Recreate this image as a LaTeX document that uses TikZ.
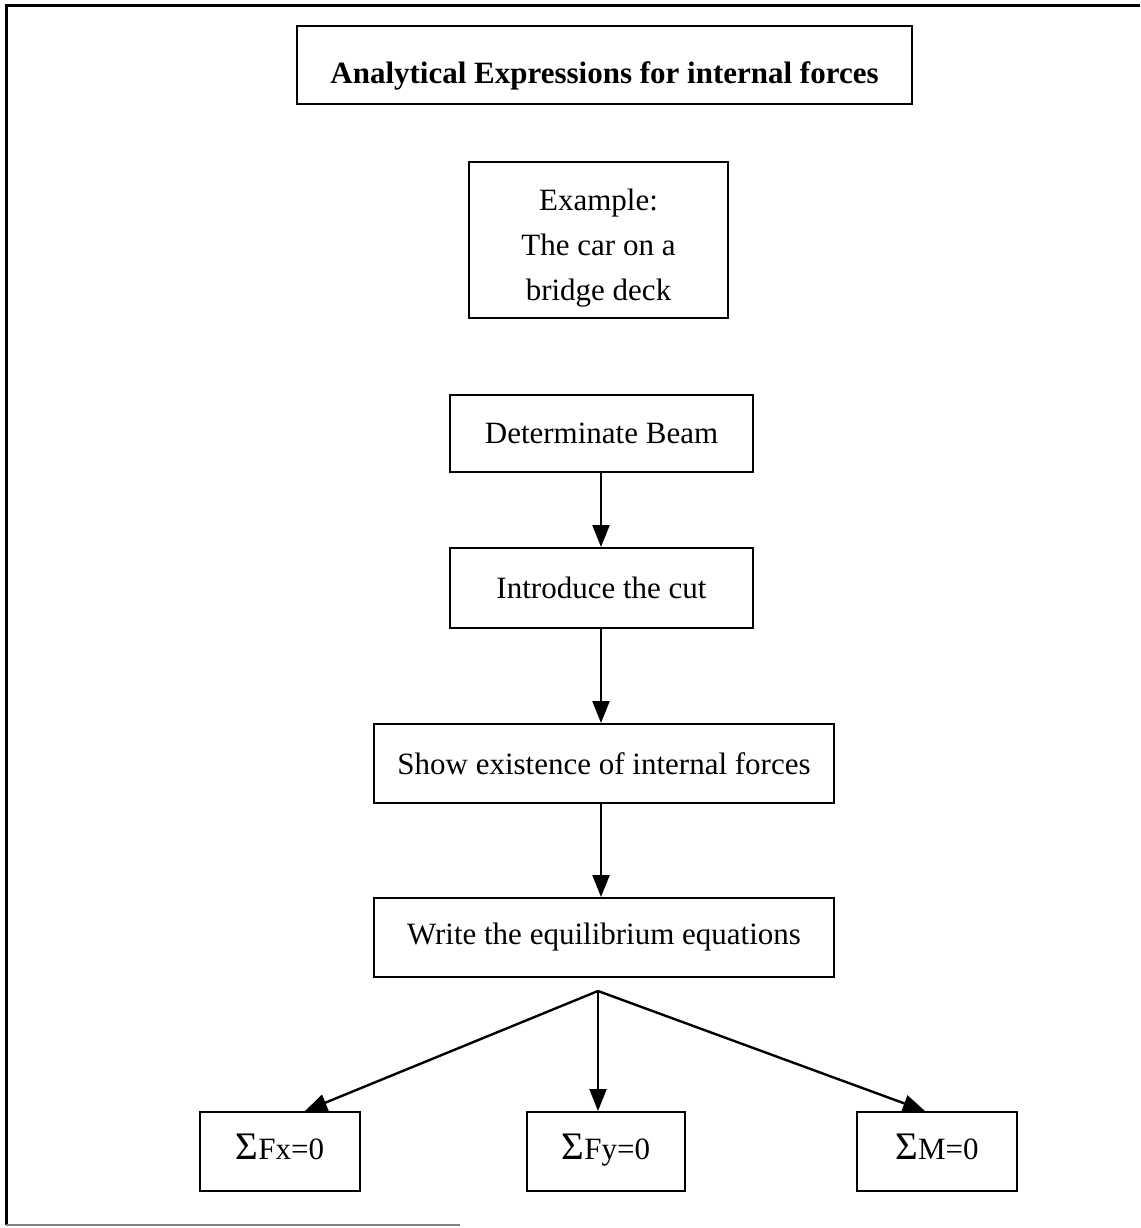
\documentclass[tikz,border=0pt]{standalone}
\usepackage{fontspec}
\setmainfont{Liberation Serif}
\usetikzlibrary{arrows.meta}
\newcommand{\bigsum}{{\fontsize{39}{45}\selectfont Σ}}
\begin{document}
\begin{tikzpicture}[x=1pt, y=-1pt,
  box/.style={draw, line width=2pt, inner sep=0pt, align=center,
    font=\fontsize{31}{45}\selectfont},
  sumbox/.style={box, minimum height=79pt, text height=22pt, text depth=7pt},
  flow/.style={line width=2.4pt, -{Triangle[length=22pt, width=17pt]}},
  frame/.style={line width=3pt}]
  \useasboundingbox (0,0) rectangle (1140,1228);

  % page frame
  \draw[frame] (1140,6) -- (6,6) -- (6,1225);
  \draw[line width=2pt, gray] (6,1225) -- (460,1225);

  % boxes
  \node[box, minimum width=615pt, minimum height=78pt,
        text height=45pt, text depth=7pt,
        font=\fontsize{31}{45}\selectfont\bfseries] (title) at (604.5,65)
        {Analytical Expressions for internal forces};
  \node[box, minimum width=259pt, minimum height=156pt] (ex) at (598.5,240)
        {\rule{0pt}{38pt}Example:\\The car on a\\bridge deck};
  \node[box, minimum width=303pt, minimum height=77pt] (beam) at (601.5,433.5)
        {Determinate Beam};
  \node[box, minimum width=303pt, minimum height=80pt] (cut) at (601.5,588)
        {Introduce the cut};
  \node[box, minimum width=460pt, minimum height=79pt] (show) at (604,763.5)
        {Show existence of internal forces};
  \node[box, minimum width=460pt, minimum height=79pt] (eq) at (604,937.5)
        {Write the equilibrium equations};
  \node[sumbox, minimum width=160pt] (fx) at (280,1151.5) {\bigsum Fx=0};
  \node[sumbox, minimum width=158pt] (fy) at (606,1151.5) {\bigsum Fy=0};
  \node[sumbox, minimum width=160pt] (m) at (937,1151.5) {\bigsum M=0};

  % connectors
  \coordinate (apex) at (598,991);
  \draw[flow] (beam.south -| 601,0) -- (cut.north -| 601,0);
  \draw[flow] (cut.south -| 601,0) -- (show.north -| 601,0);
  \draw[flow] (show.south -| 601,0) -- (eq.north -| 601,0);
  \draw[flow] (apex) -- ([xshift=25pt]fx.north);
  \draw[flow] (apex) -- (fy.north -| apex);
  \draw[flow] (apex) -- ([xshift=-12pt]m.north);
\end{tikzpicture}
\end{document}
